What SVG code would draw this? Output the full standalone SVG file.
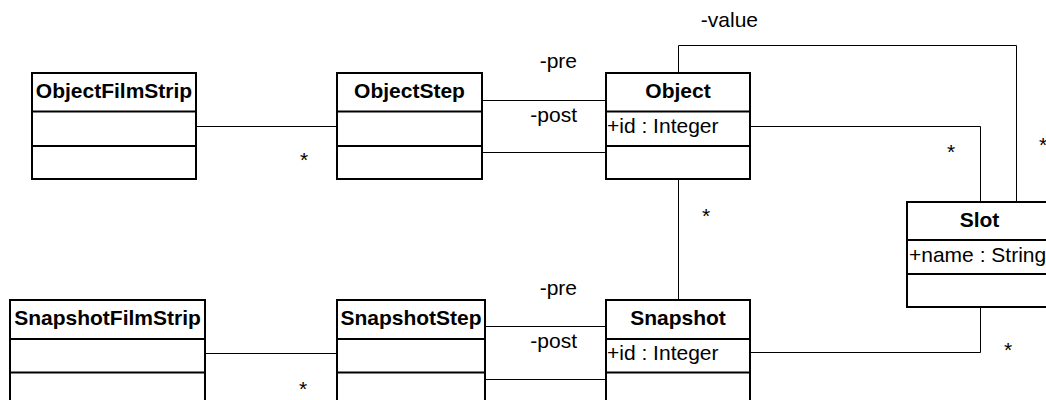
<svg xmlns="http://www.w3.org/2000/svg" width="1046" height="400" viewBox="0 0 1046 400">
<style>
.box{fill:#fff;stroke:#000;stroke-width:2}
.div{stroke:#000;stroke-width:2}
.hd{font-family:"Liberation Sans",Arial,sans-serif;font-size:21px;font-weight:bold;text-anchor:middle;fill:#000}
.at{font-family:"Liberation Sans",Arial,sans-serif;font-size:21px;fill:#000}
.lb{font-family:"Liberation Sans",Arial,sans-serif;font-size:21px;fill:#000}
.cn{fill:none;stroke:#000;stroke-width:1}
</style>
<rect width="1046" height="400" fill="#fff"/>
<g id="connectors">
<polyline class="cn" points="196,126.5 337,126.5"/>
<polyline class="cn" points="482,100.5 606,100.5"/>
<polyline class="cn" points="482,152.5 606,152.5"/>
<polyline class="cn" points="750,126.5 980.5,126.5 980.5,202"/>
<polyline class="cn" points="678.5,73 678.5,45.5 1016.5,45.5 1016.5,202"/>
<polyline class="cn" points="678.5,179 678.5,300"/>
<polyline class="cn" points="750,352.5 980.5,352.5 980.5,307"/>
<polyline class="cn" points="205,353.5 337,353.5"/>
<polyline class="cn" points="485,326.5 606,326.5"/>
<polyline class="cn" points="485,379.5 606,379.5"/>
<text class="lb" x="304" y="167" text-anchor="middle">*</text>
<text class="lb" x="577" y="68" text-anchor="end">-pre</text>
<text class="lb" x="577" y="122" text-anchor="end">-post</text>
<text class="lb" x="758" y="27" text-anchor="end">-value</text>
<text class="lb" x="951" y="159" text-anchor="middle">*</text>
<text class="lb" x="1043" y="152" text-anchor="middle">*</text>
<text class="lb" x="706" y="223" text-anchor="middle">*</text>
<text class="lb" x="1008" y="357" text-anchor="middle">*</text>
<text class="lb" x="303" y="396" text-anchor="middle">*</text>
<text class="lb" x="577" y="295" text-anchor="end">-pre</text>
<text class="lb" x="577" y="348" text-anchor="end">-post</text>
</g>
<g id="ObjectFilmStrip">
<rect class="box" x="32" y="73" width="164" height="106"/>
<line class="div" x1="32" y1="111.5" x2="196" y2="111.5"/>
<line class="div" x1="32" y1="146" x2="196" y2="146"/>
<text class="hd" x="114" y="98">ObjectFilmStrip</text>
</g>
<g id="ObjectStep">
<rect class="box" x="337" y="73" width="145" height="106"/>
<line class="div" x1="337" y1="111.5" x2="482" y2="111.5"/>
<line class="div" x1="337" y1="146" x2="482" y2="146"/>
<text class="hd" x="409.5" y="98">ObjectStep</text>
</g>
<g id="Object">
<rect class="box" x="606" y="73" width="144" height="106"/>
<line class="div" x1="606" y1="111.5" x2="750" y2="111.5"/>
<line class="div" x1="606" y1="146" x2="750" y2="146"/>
<text class="hd" x="678" y="98">Object</text>
<text class="at" x="607" y="133">+id : Integer</text>
</g>
<g id="Slot">
<rect class="box" x="907" y="202" width="145" height="105"/>
<line class="div" x1="907" y1="240" x2="1052" y2="240"/>
<line class="div" x1="907" y1="274" x2="1052" y2="274"/>
<text class="hd" x="979.5" y="227">Slot</text>
<text class="at" x="909" y="262">+name : String</text>
</g>
<g id="SnapshotFilmStrip">
<rect class="box" x="10" y="300" width="195" height="106"/>
<line class="div" x1="10" y1="339" x2="205" y2="339"/>
<line class="div" x1="10" y1="372.5" x2="205" y2="372.5"/>
<text class="hd" x="107.5" y="325">SnapshotFilmStrip</text>
</g>
<g id="SnapshotStep">
<rect class="box" x="337" y="300" width="148" height="106"/>
<line class="div" x1="337" y1="339" x2="485" y2="339"/>
<line class="div" x1="337" y1="372.5" x2="485" y2="372.5"/>
<text class="hd" x="411" y="325">SnapshotStep</text>
</g>
<g id="Snapshot">
<rect class="box" x="606" y="300" width="144" height="106"/>
<line class="div" x1="606" y1="339" x2="750" y2="339"/>
<line class="div" x1="606" y1="372.5" x2="750" y2="372.5"/>
<text class="hd" x="678" y="325">Snapshot</text>
<text class="at" x="607" y="360">+id : Integer</text>
</g>
</svg>
